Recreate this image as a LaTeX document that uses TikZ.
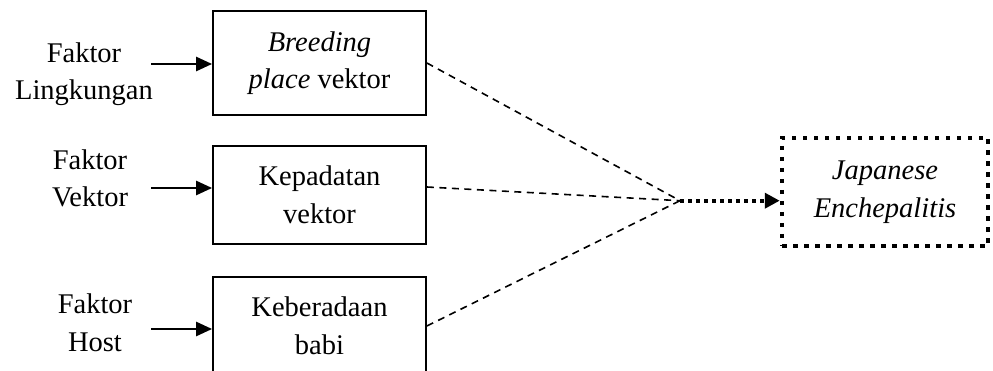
\documentclass[tikz,border=0pt]{standalone}
\usepackage{fontspec}
\setmainfont{Liberation Serif}
\usetikzlibrary{arrows.meta}
\begin{document}
\begin{tikzpicture}[x=1pt,y=-1pt,
  every node/.style={font=\fontsize{28.5}{37.5}\selectfont, inner sep=0pt, align=center},
  box/.style={draw, line width=1.8pt, minimum width=213pt, minimum height=98pt},
  lbl/.style={anchor=base},
  inarrow/.style={line width=2.6pt, -{Triangle[length=16pt,width=14pt]}},
  dashconn/.style={line width=1.6pt, dash pattern=on 7pt off 5.5pt},
  dotarrow/.style={line width=4pt, dash pattern=on 3.5pt off 4.5pt, -{Triangle[length=15pt,width=15pt]}},
  jebox/.style={draw, line width=4.5pt, dash pattern=on 4.5pt off 6.5pt, minimum width=206pt, minimum height=108pt}
]
\clip (0,0) rectangle (993,371);
% boxes
\node[box, minimum height=104pt] (b1) at (319.5,63) {\textit{Breeding}\\\textit{place} vektor};
\node[box] (b2) at (319.5,195) {Kepadatan\\vektor};
\node[box] (b3) at (319.5,326) {Keberadaan\\babi};
\node[jebox] (je) at (885,192) {\textit{Japanese}\\\textit{Enchepalitis}};
% left labels (base anchor = baseline of the last line)
\node[lbl] (l1) at (84,100) {Faktor\\Lingkungan};
\node[lbl] (l2) at (90,207) {Faktor\\Vektor};
\node[lbl] (l3) at (95,351) {Faktor\\Host};
% input arrows
\coordinate (a1) at (151,64);
\coordinate (a2) at (151,188);
\coordinate (a3) at (151,329);
\draw[inarrow] (a1) -- (a1 -| b1.west);
\draw[inarrow] (a2) -- (a2 -| b2.west);
\draw[inarrow] (a3) -- (a3 -| b3.west);
% convergence
\coordinate (c) at (680,200.7);
\draw[dashconn] (b1.east) -- (c);
\draw[dashconn] ([yshift=8pt]b2.east) -- (c);
\draw[dashconn] (b3.east) -- (c);
\draw[dotarrow] (c) -- (c -| je.west);
\end{tikzpicture}
\end{document}
